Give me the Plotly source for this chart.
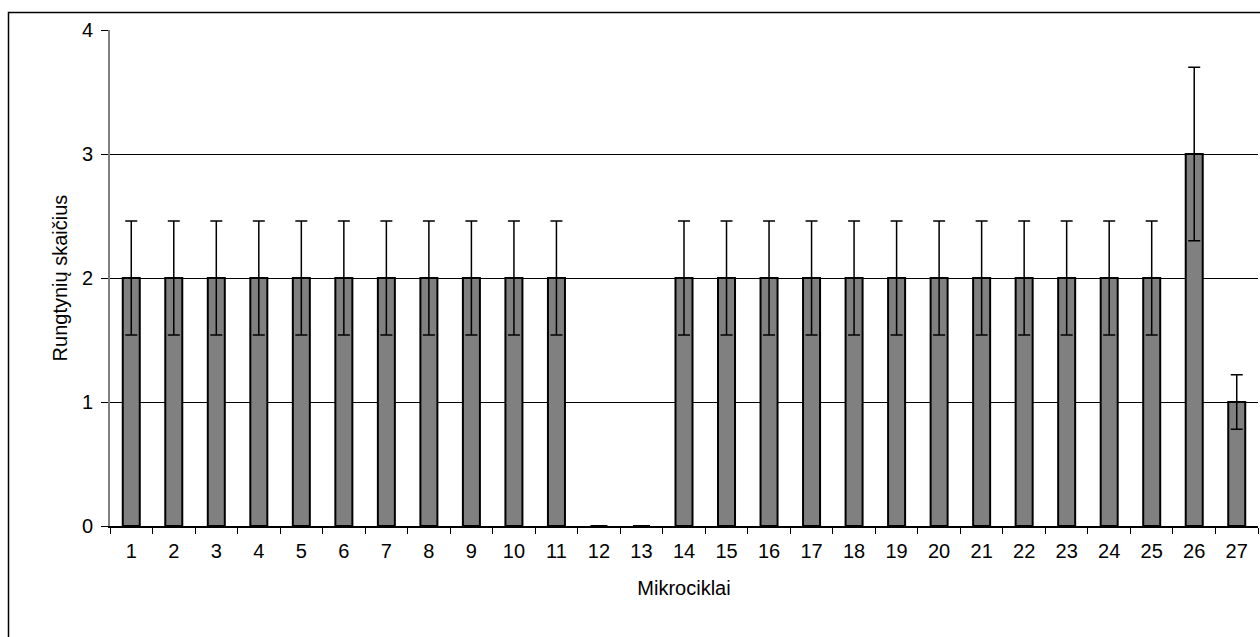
import plotly.graph_objects as go

# Mikrociklai ir rungtynių skaičius
mikrociklai = [str(i) for i in range(1, 28)]
rungtynes = [2, 2, 2, 2, 2, 2, 2, 2, 2, 2, 2, 0, 0,
             2, 2, 2, 2, 2, 2, 2, 2, 2, 2, 2, 2, 3, 1]
paklaida = [0.46, 0.46, 0.46, 0.46, 0.46, 0.46, 0.46, 0.46, 0.46, 0.46, 0.46, 0, 0,
            0.46, 0.46, 0.46, 0.46, 0.46, 0.46, 0.46, 0.46, 0.46, 0.46, 0.46, 0.46, 0.7, 0.22]
y_ticks = [0, 1, 2, 3, 4]

FONT = "Liberation Sans, Arial, sans-serif"

fig = go.Figure(
    go.Bar(
        x=mikrociklai,
        y=rungtynes,
        width=0.4,
        marker=dict(color="#808080", line=dict(color="#000000", width=2)),
        error_y=dict(type="data", array=paklaida, visible=True,
                     color="#000000", thickness=1.5, width=6),
    )
)

# plot area: x 110..1258, y 30.5..526 (px)
L, R, T, B = 110, 2, 30, 111
W, H = 1260 - L - R, 637 - T - B

def px_x(p):
    return (p - L) / W

def px_y(p):
    return (637 - B - p) / H

fig.update_layout(
    width=1260, height=637,
    margin=dict(l=L, r=R, t=T, b=B),
    plot_bgcolor="white", paper_bgcolor="white",
    showlegend=False,
    bargap=0.6,
    font=dict(family=FONT, size=20, color="#000000"),
    xaxis=dict(
        type="category",
        showline=True, linecolor="#000000", linewidth=1.5,
        ticks="outside", ticklen=6, tickcolor="#000000", tickwidth=1,
        tickson="boundaries",
        ticklabelstandoff=6,
        showgrid=False,
        tickfont=dict(size=20),
        title=dict(text="Mikrociklai", font=dict(size=20), standoff=20),
    ),
    yaxis=dict(
        range=[0, 4], tickvals=y_ticks,
        showline=True, linecolor="#808080", linewidth=2,
        ticks="outside", ticklen=7, tickcolor="#000000", tickwidth=1,
        ticklabelstandoff=4,
        showgrid=True, gridcolor="#000000", gridwidth=1,
        zeroline=False,
        tickfont=dict(size=20),
        title=dict(text="Rungtynių skaičius", font=dict(size=20), standoff=9),
    ),
    shapes=[
        dict(type="rect", xref="paper", yref="paper",
             x0=px_x(8.5), x1=px_x(1265), y0=px_y(645), y1=px_y(12.5),
             line=dict(color="#000000", width=1.5), fillcolor="rgba(0,0,0,0)",
             layer="below"),
    ],
)

fig.write_html("out.html")
